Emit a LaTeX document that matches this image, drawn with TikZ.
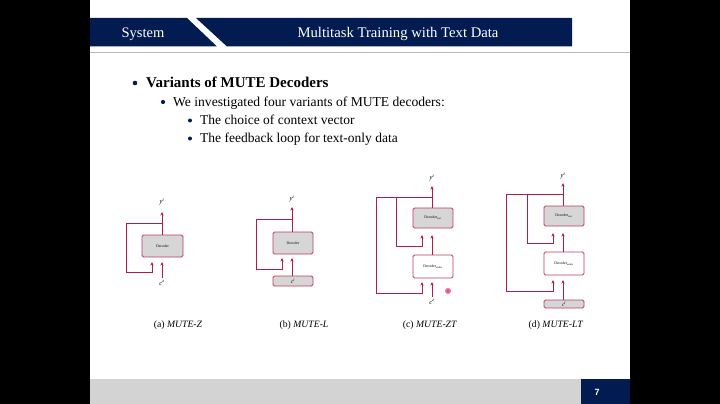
\documentclass[tikz,border=0pt]{standalone}
\usepackage{fontspec}
\setmainfont{Liberation Serif}
\newfontfamily\sansf{Liberation Sans}
\usetikzlibrary{arrows.meta}
\definecolor{navy}{RGB}{2,28,82}
\definecolor{lc}{RGB}{176,30,72}
\definecolor{bc}{RGB}{190,60,95}
\definecolor{boxgray}{RGB}{214,214,214}
\definecolor{bargray}{RGB}{211,211,211}
\definecolor{dotpink}{RGB}{240,110,150}
\begin{document}
\begin{tikzpicture}[x=1pt,y=-1pt,
  arr/.style={draw=lc,line width=0.9pt,-{Stealth[length=3.6pt,width=3.2pt]}},
  ln/.style={draw=lc,line width=0.9pt},
  decbox/.style={draw=bc,line width=0.9pt,rounded corners=1.5pt,inner sep=0pt,font=\fontsize{3.8}{4}\selectfont},
  gbox/.style={decbox,fill=boxgray},
  wbox/.style={decbox,fill=white},
  lab/.style={inner sep=0pt,font=\fontsize{6.5}{7}\selectfont},
  capt/.style={inner sep=0pt,anchor=base,font=\fontsize{9.7}{11}\selectfont},
  bul/.style={circle,fill=navy,inner sep=0pt,minimum size=4.6pt}]
\useasboundingbox (0,0) rectangle (720,404);
\fill[white] (90,0) rectangle (630,404);
\fill[black] (0,0) rectangle (90,404);
\fill[black] (630,0) rectangle (720,404);
% header
\fill[navy] (90,18) -- (187,18) -- (217,46.5) -- (90,46.5) -- cycle;
\fill[navy] (196,18) -- (572,18) -- (572,46.5) -- (227,46.5) -- cycle;
\draw[gray!55,line width=0.8pt] (90,52.5) -- (630,52.5);
\node[text=white,anchor=base,inner sep=0pt,font=\fontsize{14.5}{16}\selectfont] (hsys) at (143,37.5) {System};
\node[text=white,anchor=base,inner sep=0pt,font=\fontsize{14.7}{16}\selectfont] (htitle) at (398,37.5) {Multitask Training with Text Data};
% footer
\fill[bargray] (90,379) rectangle (581,404);
\fill[navy] (581,379) rectangle (630,404);
\node[text=white,inner sep=0pt,font=\sansf\bfseries\fontsize{9}{10}\selectfont] (pnum) at (597,392) {7};
% bullets
\node[bul] (b1) at (135,83) {};
\node[anchor=base west,inner sep=0pt,font=\bfseries\fontsize{15}{17}\selectfont] (t1) at (146,87) {Variants of MUTE Decoders};
\node[bul,minimum size=4.2pt] (b2) at (163,102) {};
\node[anchor=base west,inner sep=0pt,font=\fontsize{13.6}{15}\selectfont] (t2) at (173,106) {We investigated four variants of MUTE decoders:};
\node[bul,minimum size=4pt] (b3) at (190,120.5) {};
\node[anchor=base west,inner sep=0pt,font=\fontsize{13.5}{15}\selectfont] (t3) at (200,124.5) {The choice of context vector};
\node[bul,minimum size=4pt] (b4) at (190,138.5) {};
\node[anchor=base west,inner sep=0pt,font=\fontsize{13.5}{15}\selectfont] (t4) at (200,142.5) {The feedback loop for text-only data};
% ---------- (a) MUTE-Z
\node[gbox,minimum width=41pt,minimum height=22pt] (decA) at (162.5,246) {Decoder};
\node[lab] (yA) at (162,202) {\textit{y}\textsuperscript{\textit{t}}};
\node[lab] (cA) at (162,283) {\textit{c}\textsuperscript{\textit{z}}};
\coordinate (aTop) at (162,212);
\coordinate (aJ) at (162,223);
\coordinate (aL1) at (126,223);
\coordinate (aL2) at (126,272);
\coordinate (aR) at (152,272);
\coordinate (aTipF) at (152,262);
\coordinate (aIn) at (162,277.5);
\coordinate (aTipI) at (162,262);
\draw[arr] (decA.north -| aTop) -- (aTop);
\draw[arr] (aJ) -- (aL1) -- (aL2) -- (aR) -- (aTipF);
\draw[arr] (aIn) -- (aTipI);
\node[capt] (capA) at (178,327) {(a) \textit{MUTE-Z}};
% ---------- (b) MUTE-L
\node[gbox,minimum width=40pt,minimum height=22pt] (decB) at (293,243) {Decoder};
\node[gbox,minimum width=40pt,minimum height=10pt,font=\fontsize{5.5}{6}\selectfont] (inB) at (293,281) {\textit{c}\textsuperscript{\textit{l}}};
\node[lab] (yB) at (292,199) {\textit{y}\textsuperscript{\textit{t}}};
\coordinate (bTop) at (292,207);
\coordinate (bJ) at (292,219);
\coordinate (bL1) at (256,219);
\coordinate (bL2) at (256,269);
\coordinate (bR) at (282,269);
\coordinate (bTipF) at (282,258);
\coordinate (bTipI) at (292,258);
\draw[arr] (decB.north -| bTop) -- (bTop);
\draw[arr] (bJ) -- (bL1) -- (bL2) -- (bR) -- (bTipF);
\draw[arr] (inB.north -| bTipI) -- (bTipI);
\node[capt] (capB) at (304,327) {(b) \textit{MUTE-L}};
% ---------- (c) MUTE-ZT
\node[gbox,minimum width=40pt,minimum height=20pt] (decCt) at (433,218) {Decoder\textsubscript{\textit{text}}};
\node[wbox,minimum width=40pt,minimum height=23pt] (decCa) at (433,266.5) {Decoder\textsubscript{\textit{audio}}};
\node[lab] (yC) at (432,178) {\textit{y}\textsuperscript{\textit{t}}};
\node[lab] (cC) at (432,302) {\textit{c}\textsuperscript{\textit{z}}};
\coordinate (cTop) at (432,186);
\coordinate (cJ) at (432,197);
\coordinate (cO1) at (376,197);
\coordinate (cO2) at (376,293);
\coordinate (cO3) at (422,293);
\coordinate (cOT) at (422,282);
\coordinate (cI1) at (396,197);
\coordinate (cI2) at (396,246);
\coordinate (cI3) at (422,246);
\coordinate (cIT) at (422,235);
\coordinate (cMid) at (432,235);
\coordinate (cIn) at (432,297);
\coordinate (cInT) at (432,282);
\draw[arr] (decCt.north -| cTop) -- (cTop);
\draw[ln] (cJ) -- (cO1);
\draw[arr] (cO1) -- (cO2) -- (cO3) -- (cOT);
\draw[arr] (cI1) -- (cI2) -- (cI3) -- (cIT);
\draw[arr] (decCa.north -| cMid) -- (cMid);
\draw[arr] (cIn) -- (cInT);
\node[circle,fill=dotpink,inner sep=0pt,minimum size=6pt] (dot) at (448,291) {};
\fill[lc!80] (dot) circle (1.2pt);
\node[capt] (capC) at (430,327) {(c) \textit{MUTE-ZT}};
% ---------- (d) MUTE-LT
\node[gbox,minimum width=40pt,minimum height=20pt] (decDt) at (564,216) {Decoder\textsubscript{\textit{text}}};
\node[wbox,minimum width=40pt,minimum height=23pt] (decDa) at (564,263.5) {Decoder\textsubscript{\textit{audio}}};
\node[gbox,minimum width=40pt,minimum height=8pt,font=\fontsize{5.5}{6}\selectfont] (inD) at (564,304) {\textit{c}\textsuperscript{\textit{l}}};
\node[lab] (yD) at (563,176) {\textit{y}\textsuperscript{\textit{t}}};
\coordinate (dTop) at (563,183);
\coordinate (dJ) at (563,194);
\coordinate (dO1) at (506,194);
\coordinate (dO2) at (506,291);
\coordinate (dO3) at (553,291);
\coordinate (dOT) at (553,280);
\coordinate (dI1) at (527,194);
\coordinate (dI2) at (527,243);
\coordinate (dI3) at (553,243);
\coordinate (dIT) at (553,233);
\coordinate (dMid) at (563,233);
\coordinate (dInT) at (563,280);
\draw[arr] (decDt.north -| dTop) -- (dTop);
\draw[ln] (dJ) -- (dO1);
\draw[arr] (dO1) -- (dO2) -- (dO3) -- (dOT);
\draw[arr] (dI1) -- (dI2) -- (dI3) -- (dIT);
\draw[arr] (decDa.north -| dMid) -- (dMid);
\draw[arr] (inD.north -| dInT) -- (dInT);
\node[capt] (capD) at (556,327) {(d) \textit{MUTE-LT}};
\end{tikzpicture}
\end{document}
